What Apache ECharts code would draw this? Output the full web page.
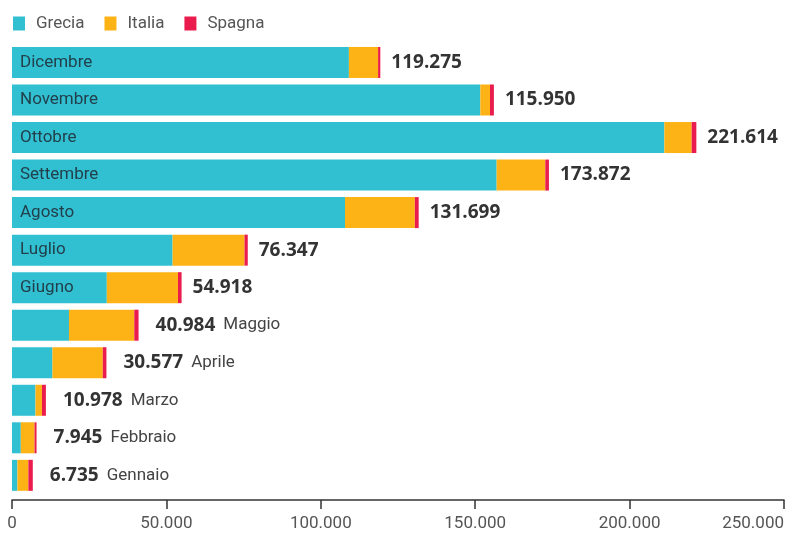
<!DOCTYPE html>
<html>
<head>
<meta charset="utf-8">
<script src="https://cdn.jsdelivr.net/npm/echarts@6/dist/echarts.min.js"></script>
<style>
html,body{margin:0;padding:0;background:#fff;}
#chart{width:789px;height:534px;}
</style>
</head>
<body>
<div id="chart"></div>
<script>
const mesi = ['Gennaio','Febbraio','Marzo','Aprile','Maggio','Giugno','Luglio','Agosto','Settembre','Ottobre','Novembre','Dicembre'];
const grecia = [1750, 2850, 7600, 13100, 18450, 30700, 52000, 107843, 156950, 211250, 151650, 109100];
const italia = [3550, 4450, 2100, 16300, 21150, 23050, 23300, 22610, 15750, 8850, 3150, 9450];
const spagna = [1435, 645, 1278, 1177, 1384, 1168, 1047, 1246, 1172, 1514, 1250, 725];
const totali = [6735, 7945, 10978, 30577, 40984, 54918, 76347, 131699, 173872, 221614, 115950, 119275];
const serieNomi = ['Grecia', 'Italia', 'Spagna'];
const xTicks = [0, 50000, 100000, 150000, 200000, 250000];

function fmt(n){ return String(n).replace(/\B(?=(\d{3})+(?!\d))/g, '.'); }

const chart = echarts.init(document.getElementById('chart'), null, {renderer:'canvas'});
const colors = ['#31BFD2', '#FDB316', '#EA1C4D'];
const INSIDE_MIN = 25000;

chart.setOption({
  animation: false,
  color: colors,
  legend: {
    left: 8, top: 10,
    icon: 'rect', itemWidth: 12, itemHeight: 14, itemGap: 20,
    textStyle: { fontFamily: 'Roboto', fontSize: 17, color: '#555', padding: [0,0,0,6] },
    data: serieNomi
  },
  grid: { left: 12, right: 5, top: 43.7, bottom: 39.9, containLabel: false },
  xAxis: {
    type: 'value', min: xTicks[0], max: xTicks[xTicks.length-1], interval: xTicks[1]-xTicks[0],
    offset: 6,
    splitLine: { show: false },
    axisLine: { show: true, lineStyle: { color: '#333', width: 1.5 } },
    axisTick: { show: true, length: 9, lineStyle: { color: '#333', width: 1.5 } },
    axisLabel: { formatter: v => fmt(v), color: '#555', fontFamily: 'Roboto', fontSize: 17, margin: 15, alignMaxLabel: 'right' }
  },
  yAxis: {
    type: 'category', data: mesi,
    axisLine: { show: false }, axisTick: { show: false }, axisLabel: { show: false }
  },
  series: [
    {
      name: serieNomi[0], type: 'bar', stack: 'tot', barWidth: 31, data: grecia,
      label: {
        show: true, position: 'insideLeft', distance: 8,
        fontFamily: 'Roboto', fontSize: 17, color: '#22404b',
        formatter: p => grecia[p.dataIndex] >= INSIDE_MIN ? mesi[p.dataIndex] : ''
      }
    },
    { name: serieNomi[1], type: 'bar', stack: 'tot', barWidth: 31, data: italia },
    {
      name: serieNomi[2], type: 'bar', stack: 'tot', barWidth: 31, data: spagna,
      label: {
        show: true, position: 'right', distance: 11,
        formatter: p => {
          const i = p.dataIndex;
          if (grecia[i] < INSIDE_MIN) {
            return '{bp|' + fmt(totali[i]) + '}{m|' + mesi[i] + '}';
          }
          return '{b|' + fmt(totali[i]) + '}';
        },
        rich: {
          b: { fontFamily: 'Open Sans', fontWeight: 'bold', fontSize: 19, color: '#333' },
          bp: { fontFamily: 'Open Sans', fontWeight: 'bold', fontSize: 19, color: '#333', padding: [0,0,0,6] },
          m: { fontFamily: 'Roboto', fontSize: 17, color: '#444', padding: [0,0,0,8] }
        }
      }
    }
  ]
});
</script>
</body>
</html>
